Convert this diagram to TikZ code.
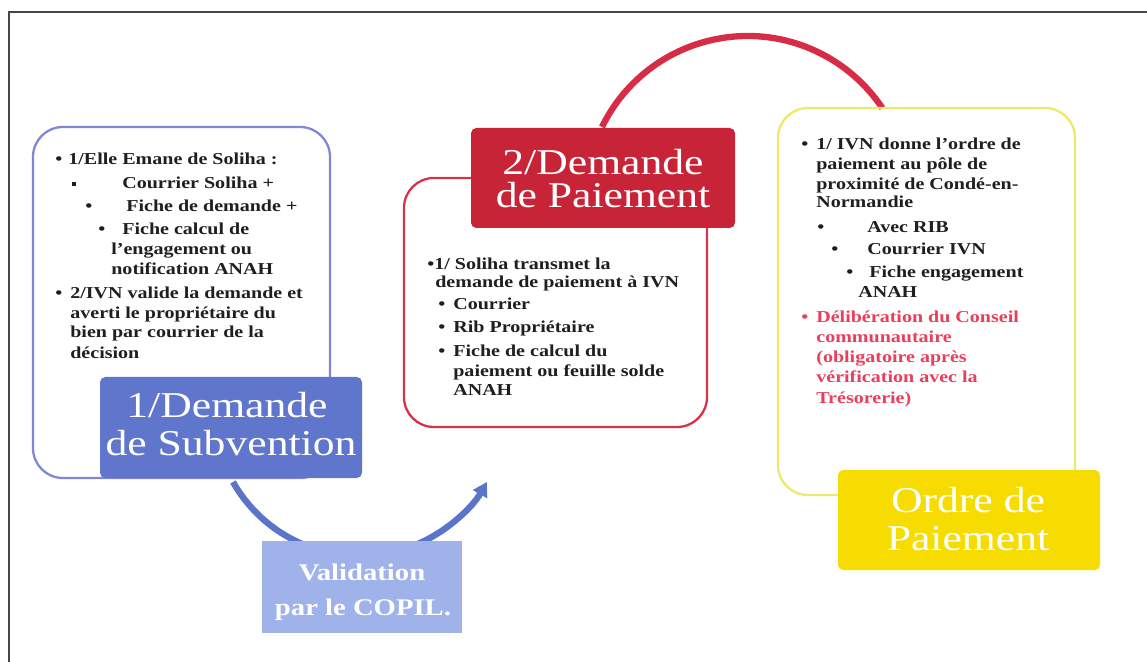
\documentclass[tikz,border=0pt]{standalone}
\usepackage{fontspec}
\setmainfont{Liberation Serif}[FakeStretch=1.2]
\usetikzlibrary{arrows.meta}
\definecolor{txt}{RGB}{34,30,32}
\definecolor{pinktxt}{RGB}{232,64,92}
\definecolor{blueF}{RGB}{96,118,204}
\definecolor{blueO}{RGB}{128,136,214}
\definecolor{blueA}{RGB}{92,116,200}
\definecolor{valF}{RGB}{160,178,234}
\definecolor{redF}{RGB}{200,36,56}
\definecolor{redO}{RGB}{212,52,74}
\definecolor{redA}{RGB}{214,44,70}
\definecolor{yelF}{RGB}{246,220,0}
\definecolor{yelO}{RGB}{238,232,110}
\definecolor{frame}{RGB}{70,70,70}
\tikzset{
  ln/.style={anchor=base west, inner sep=0pt, text=txt,
    font=\fontsize{9.5}{11}\selectfont\bfseries},
  pk/.style={ln, text=pinktxt},
  ttl/.style={anchor=base, inner sep=0pt, text=white,
    font=\fontsize{20.7}{24}\selectfont},
  vtl/.style={anchor=base, inner sep=0pt, text=white,
    font=\fontsize{13.6}{16}\selectfont\bfseries},
  outline/.style={line width=1.3pt, rounded corners=17pt},
  tbox/.style={rounded corners=3pt},
  arcline/.style={line width=3.6pt},
}
\newcommand{\sq}{\raisebox{0.35ex}{\rule{2.2pt}{2.2pt}}}
\begin{document}
\begin{tikzpicture}[x=0.02cm,y=-0.02cm]
\useasboundingbox (0,0) rectangle (1147,662);
% frame
\draw[frame, line width=1.4pt] (9,662) -- (9,12) -- (1147,12);

% arcs (behind boxes)
\coordinate (a1s) at (233,482);
\draw[blueA, arcline, -{Triangle[length=8pt,width=9pt]}]
  (a1s) arc[start angle=150.4, end angle=29.6, radius=146];
\coordinate (a2s) at (602,127);
\draw[redA, arcline] (a2s) arc[start angle=206, end angle=326.3, radius=162];

% outline boxes
\draw[blueO, outline] (33,127) rectangle (330,478);
\draw[redO, outline] (404,178) rectangle (707,427);
\draw[yelO, outline] (778,108) rectangle (1075,495);

% title boxes
\fill[blueF, tbox] (100,377) rectangle (362,478);
\fill[redF, tbox] (471,128) rectangle (735,228);
\fill[yelF, tbox] (838,470) rectangle (1100,570);
\fill[valF] (262,541) rectangle (462,633);

% titles
\node[ttl] (t1a) at (227,418) {1/Demande};
\node[ttl] (t1b) at (231,456) {de Subvention};
\node[ttl] (t2a) at (603,175) {2/Demande};
\node[ttl] (t2b) at (603,208) {de Paiement};
\node[ttl] (t3a) at (968,512) {Ordre de};
\node[ttl] (t3b) at (968,550) {Paiement};
\node[vtl] (v1) at (362,580) {Validation};
\node[vtl] (v2) at (363,615) {par le COPIL.};

% blue box text
\node[ln] (b1b) at (55,165) {•};
\node[ln] (b1) at (68,165) {1/Elle Emane de Soliha :};
\node[ln] (b2b) at (72,189) {\sq};
\node[ln] (b2) at (122,189) {Courrier Soliha +};
\node[ln] (b3b) at (85,212) {•};
\node[ln] (b3) at (126,212) {Fiche de demande +};
\node[ln] (b4b) at (98,235) {•};
\node[ln] (b4) at (122,235) {Fiche calcul de};
\node[ln] (b5) at (111,255) {l’engagement ou};
\node[ln] (b6) at (111,275) {notification ANAH};
\node[ln] (b7b) at (55,299) {•};
\node[ln] (b7) at (70,299) {2/IVN valide la demande et};
\node[ln] (b8) at (70,319) {averti le propriétaire du};
\node[ln] (b9) at (70,338) {bien par courrier de la};
\node[ln] (b10) at (70,358) {décision};

% red box text
\node[ln] (r1) at (427,270) {•1/ Soliha transmet la};
\node[ln] (r2) at (435,288) {demande de paiement à IVN};
\node[ln] (r3b) at (438,310) {•};
\node[ln] (r3) at (453,310) {Courrier};
\node[ln] (r4b) at (438,333) {•};
\node[ln] (r4) at (453,333) {Rib Propriétaire};
\node[ln] (r5b) at (438,357) {•};
\node[ln] (r5) at (453,357) {Fiche de calcul du};
\node[ln] (r6) at (453,377) {paiement ou feuille solde};
\node[ln] (r7) at (453,396) {ANAH};

% yellow box text
\node[ln] (y1b) at (801,150) {•};
\node[ln] (y1) at (816,150) {1/ IVN donne l’ordre de};
\node[ln] (y2) at (816,170) {paiement au pôle de};
\node[ln] (y3) at (816,190) {proximité de Condé-en-};
\node[ln] (y4) at (816,208) {Normandie};
\node[ln] (y5b) at (817,233) {•};
\node[ln] (y5) at (867,233) {Avec RIB};
\node[ln] (y6b) at (831,255) {•};
\node[ln] (y6) at (867,255) {Courrier IVN};
\node[ln] (y7b) at (846,278) {•};
\node[ln] (y7) at (869,278) {Fiche engagement};
\node[ln] (y8) at (858,298) {ANAH};
\node[pk] (y9b) at (801,323) {•};
\node[pk] (y9) at (816,323) {Délibération du Conseil};
\node[pk] (y10) at (816,343) {communautaire};
\node[pk] (y11) at (816,363) {(obligatoire après};
\node[pk] (y12) at (816,383) {vérification avec la};
\node[pk] (y13) at (816,403) {Trésorerie)};
\end{tikzpicture}
\end{document}
